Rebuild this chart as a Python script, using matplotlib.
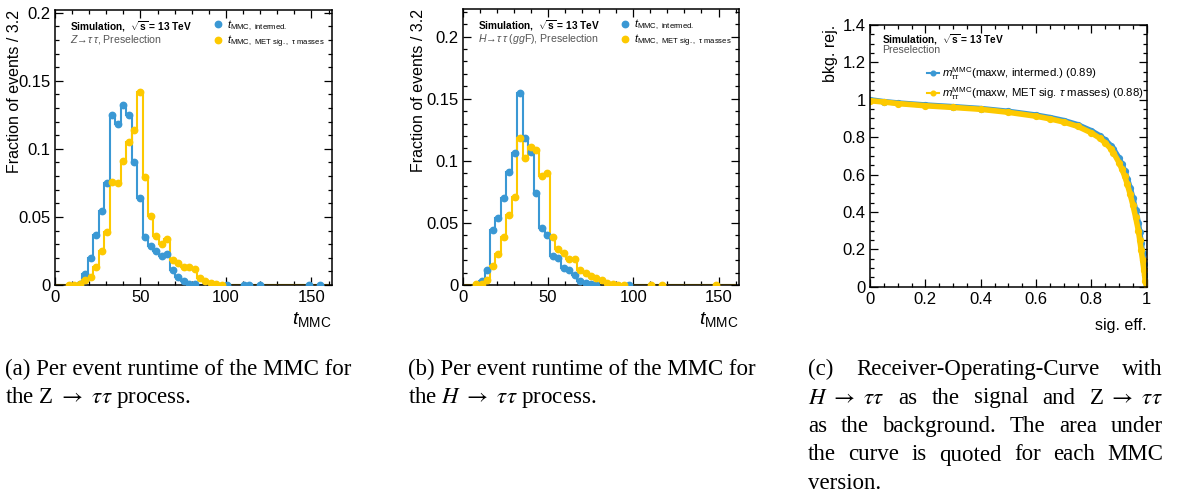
import numpy as np
import matplotlib
matplotlib.use("Agg")
import matplotlib.pyplot as plt
from matplotlib.ticker import MultipleLocator, FuncFormatter

plt.rcParams['font.family'] = ['Liberation Sans', 'DejaVu Sans']
plt.rcParams['mathtext.fontset'] = 'custom'
plt.rcParams['mathtext.rm'] = 'Liberation Sans'
plt.rcParams['mathtext.it'] = 'Liberation Sans:italic'
plt.rcParams['mathtext.bf'] = 'Liberation Sans:bold'

BLUE = '#3a98d4'
YELLOW = '#fdc900'

# 50 bins of width 3.2 between 0 and 160
bin_edges = np.linspace(0, 160, 51)

# fraction of events per bin, Z -> tau tau
z_intermed = [0, 0, 0, 0, 0.001, 0.008, 0.020, 0.037, 0.054, 0.075,
              0.125, 0.118, 0.132, 0.125, 0.090, 0.064, 0.035, 0.029, 0.025, 0.021,
              0.023, 0.011, 0.006, 0.003, 0.001, 0.0005, 0, 0, 0, 0,
              0, 0.0002, 0, 0, 0.0002, 0.0002, 0, 0.0002, 0, 0,
              0, 0, 0, 0, 0, 0, 0.0002, 0, 0.0002, 0]
z_metsig = [0, 0, 0.0003, 0.0003, 0.001, 0.004, 0.006, 0.013, 0.025, 0.039,
            0.076, 0.075, 0.091, 0.105, 0.114, 0.142, 0.079, 0.051, 0.036, 0.030,
            0.034, 0.018, 0.016, 0.013, 0.013, 0.012, 0.005, 0.003, 0.0012, 0.0005,
            0.0003, 0, 0, 0, 0, 0, 0, 0, 0, 0,
            0, 0, 0, 0, 0, 0, 0, 0, 0, 0]

# fraction of events per bin, H -> tau tau (ggF)
h_intermed = [0, 0, 0, 0.003, 0.012, 0.044, 0.054, 0.070, 0.091, 0.106,
              0.155, 0.118, 0.107, 0.074, 0.046, 0.040, 0.023, 0.022, 0.014, 0.012,
              0.008, 0.003, 0.0013, 0.0005, 0.0003, 0, 0, 0, 0, 0,
              0.0002, 0, 0, 0, 0, 0, 0, 0, 0, 0,
              0, 0, 0, 0, 0, 0, 0, 0, 0, 0]
h_metsig = [0, 0, 0.0005, 0.0008, 0.004, 0.015, 0.025, 0.039, 0.056, 0.071,
            0.118, 0.102, 0.111, 0.109, 0.088, 0.090, 0.039, 0.029, 0.026, 0.021,
            0.021, 0.012, 0.010, 0.007, 0.006, 0.004, 0.0013, 0.0005, 0.0003, 0.0002,
            0, 0, 0, 0, 0.0002, 0, 0.0002, 0, 0, 0,
            0, 0, 0, 0, 0, 0, 0.0002, 0, 0, 0]

# ROC: signal efficiency vs background rejection
roc_eff = [0, 0.05, 0.1, 0.2, 0.3, 0.4, 0.5, 0.6, 0.65, 0.7,
           0.75, 0.8, 0.83, 0.85, 0.87, 0.88, 0.9, 0.91, 0.92, 0.93,
           0.94, 0.95, 0.96, 0.97, 0.975, 0.98, 0.985, 0.99, 0.995, 1.0]
roc_rej_intermed = [1.0, 0.99, 0.983, 0.972, 0.963, 0.953, 0.938, 0.918, 0.905, 0.889,
                    0.867, 0.834, 0.808, 0.785, 0.755, 0.736, 0.688, 0.656, 0.62, 0.578,
                    0.53, 0.475, 0.41, 0.34, 0.29, 0.235, 0.18, 0.12, 0.06, 0.0]
roc_rej_metsig = [0.995, 0.988, 0.98, 0.968, 0.959, 0.949, 0.933, 0.912, 0.898, 0.881,
                  0.858, 0.823, 0.795, 0.770, 0.738, 0.717, 0.664, 0.630, 0.593, 0.548,
                  0.496, 0.438, 0.372, 0.30, 0.25, 0.195, 0.145, 0.09, 0.03, 0.0]

lbl_intermed = r"$t_{\mathrm{MMC,\ intermed.}}$"
lbl_metsig = r"$t_{\mathrm{MMC,\ MET\ sig.,\ \tau\ masses}}$"
roc_lbl_intermed = r"$m_{\tau\tau}^{\mathrm{MMC}}$(maxw, intermed.) (0.89)"
roc_lbl_metsig = r"$m_{\tau\tau}^{\mathrm{MMC}}$(maxw, MET sig. $\tau$ masses) (0.88)"


def style_axes(ax, xmaj, xmin, ymaj, ymin):
    ax.xaxis.set_major_locator(MultipleLocator(xmaj))
    ax.xaxis.set_minor_locator(MultipleLocator(xmin))
    ax.yaxis.set_major_locator(MultipleLocator(ymaj))
    ax.yaxis.set_minor_locator(MultipleLocator(ymin))
    fmt = FuncFormatter(lambda v, p: "%g" % round(v, 6))
    ax.xaxis.set_major_formatter(fmt)
    ax.yaxis.set_major_formatter(fmt)
    ax.tick_params(which='both', direction='in', top=True, right=True,
                   labelsize=12, width=0.9)
    ax.tick_params(axis='y', pad=3)
    ax.tick_params(which='major', length=6)
    ax.tick_params(which='minor', length=3)
    for s in ax.spines.values():
        s.set_linewidth(1.1)


def draw_hist(ax, intermed, metsig, process, ymax, ylab_x):
    centers = 0.5 * (bin_edges[1:] + bin_edges[:-1])
    for vals, col in [(intermed, BLUE), (metsig, YELLOW)]:
        ax.stairs(np.array(vals), bin_edges, color=col, lw=1.5, zorder=2)
    handles = []
    for vals, col, lbl in [(intermed, BLUE, lbl_intermed), (metsig, YELLOW, lbl_metsig)]:
        vals = np.array(vals)
        m = vals > 0
        h, = ax.plot(centers[m], vals[m], 'o', color=col, ms=4.6, zorder=3, label=lbl)
        handles.append(h)
    ax.set_xlim(0, 162)
    ax.set_ylim(0, ymax)
    style_axes(ax, 50, 10, 0.05, 0.01)
    ax.set_ylabel("Fraction of events / 3.2", loc='top', fontsize=11.5)
    ax.yaxis.set_label_coords(ylab_x, 1.0)
    ax.set_xlabel(r"$t_{\mathrm{MMC}}$", loc='right', fontsize=14, labelpad=4)
    ax.text(0.054, 0.94, r"Simulation,  $\mathbf{\sqrt{s}}$ = 13 TeV", transform=ax.transAxes,
            fontsize=7.3, fontweight='bold', va='center')
    ax.text(0.054, 0.893, process, transform=ax.transAxes, fontsize=7.6,
            color='#555555', va='center')
    ax.legend(handles=handles, loc='upper left', bbox_to_anchor=(0.56, 0.985),
              frameon=False, fontsize=7.9, handlelength=0.6, handletextpad=0.5,
              labelspacing=0.05, borderaxespad=0)


fig = plt.figure(figsize=(11.8, 5.0), dpi=100)
W, H = 1180, 500

ax1 = fig.add_axes([55 / W, 1 - 285 / H, 277 / W, 275 / H])
draw_hist(ax1, z_intermed, z_metsig, r"$Z\!\rightarrow\!\tau\,\tau$, Preselection", 0.202, -0.12)

ax2 = fig.add_axes([462.7 / W, 1 - 285 / H, 276.3 / W, 275.7 / H])
draw_hist(ax2, h_intermed, h_metsig, r"$H\!\rightarrow\!\tau\,\tau$ ($gg$F), Preselection", 0.222, -0.132)

ax3 = fig.add_axes([870 / W, 1 - 286.7 / H, 276.7 / W, 261.7 / H])
ax3.plot(roc_eff, roc_rej_intermed, '-o', color=BLUE, lw=4, ms=4.2, label=roc_lbl_intermed)
ax3.plot(roc_eff, roc_rej_metsig, '-o', color=YELLOW, lw=4, ms=4.2, label=roc_lbl_metsig)
ax3.set_xlim(0, 1)
ax3.set_ylim(0, 1.4)
style_axes(ax3, 0.2, 0.05, 0.2, 0.05)
ax3.set_ylabel("bkg. rej.", loc='top', fontsize=11.5)
ax3.yaxis.set_label_coords(-0.115, 1.0)
ax3.set_xlabel("sig. eff.", loc='right', fontsize=11.5, labelpad=8)
ax3.text(0.045, 0.943, r"Simulation,  $\mathbf{\sqrt{s}}$ = 13 TeV", transform=ax3.transAxes,
         fontsize=7.3, fontweight='bold', va='center')
ax3.text(0.045, 0.903, "Preselection", transform=ax3.transAxes, fontsize=7.6,
         color='#555555', va='center')
leg = ax3.legend(loc='upper left', bbox_to_anchor=(0.19, 0.865), frameon=False,
                 fontsize=8.2, handlelength=1.0, handletextpad=0.3,
                 labelspacing=0.35, borderaxespad=0, markerscale=0.8)
for ln in leg.get_lines():
    ln.set_linewidth(1.5)

# captions
cap_kw = dict(fontsize=16.5, family='Liberation Serif', math_fontfamily='stix', va='baseline')
base = [375, 403.5, 432, 460.5, 489]

fig.text(5 / W, 1 - base[0] / H, "(a) Per event runtime of the MMC for", **cap_kw)
fig.text(5 / W, 1 - base[1] / H, r"the Z $\rightarrow\ \tau\tau$ process.", **cap_kw)
fig.text(408 / W, 1 - base[0] / H, "(b) Per event runtime of the MMC for", **cap_kw)
fig.text(408 / W, 1 - base[1] / H, r"the $H\ \rightarrow\ \tau\tau$ process.", **cap_kw)

renderer = fig.canvas.get_renderer()


def justified(words, x0, x1, yb):
    widths = []
    for w in words:
        t = fig.text(0, 0, w, **cap_kw)
        widths.append(t.get_window_extent(renderer).width)
        t.remove()
    gap = (x1 - x0 - sum(widths)) / (len(words) - 1)
    x = x0
    for w, wd in zip(words, widths):
        fig.text(x / W, 1 - yb / H, w, **cap_kw)
        x += wd + gap


c_lines = [
    ["(c)", "Receiver-Operating-Curve", "with"],
    [r"$H\ \rightarrow\ \tau\tau$", "as", "the", "signal", "and", r"Z $\rightarrow\ \tau\tau$"],
    ["as", "the", "background.", "The", "area", "under"],
    ["the", "curve", "is", "quoted", "for", "each", "MMC"],
]
for i, words in enumerate(c_lines):
    justified(words, 808, 1163, base[i])
fig.text(808 / W, 1 - base[4] / H, "version.", **cap_kw)

fig.savefig("out.png", dpi=100)
